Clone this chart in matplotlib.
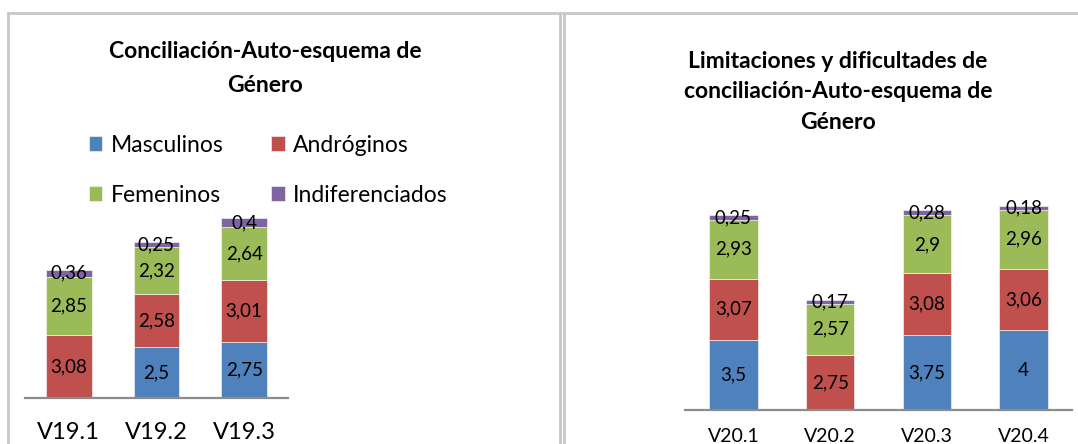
import numpy as np
import matplotlib.pyplot as plt
from matplotlib.lines import Line2D

plt.rcParams['font.family'] = ['Lato', 'DejaVu Sans']

# Data for the two panels
series = ['Masculinos', 'Andróginos', 'Femeninos', 'Indiferenciados']
colors = ['#4F81BD', '#C0504D', '#9BBB59', '#8064A2']

cats_19 = ['V19.1', 'V19.2', 'V19.3']
masc_19 = [0, 2.5, 2.75]
andr_19 = [3.08, 2.58, 3.01]
feme_19 = [2.85, 2.32, 2.64]
indi_19 = [0.36, 0.25, 0.4]

cats_20 = ['V20.1', 'V20.2', 'V20.3', 'V20.4']
masc_20 = [3.5, 0, 3.75, 4]
andr_20 = [3.07, 2.75, 3.08, 3.06]
feme_20 = [2.93, 2.57, 2.9, 2.96]
indi_20 = [0.25, 0.17, 0.28, 0.18]

W, H = 1078, 444
fig = plt.figure(figsize=(W / 100, H / 100), dpi=100)


def px_axes(x0, x1, ybase, px_per_unit, ymax):
    top = ybase - px_per_unit * ymax
    return fig.add_axes([x0 / W, (H - ybase) / H, (x1 - x0) / W, (ybase - top) / H])


def fmt(v):
    return '' if v == 0 else f'{v:g}'.replace('.', ',')


def stacked(ax, cats, data, tick_size, label_size, width, pad):
    x = np.arange(len(cats))
    bottom = np.zeros(len(cats))
    handles = []
    for name, vals, c in zip(series, data, colors):
        bars = ax.bar(x, vals, width, bottom=bottom, color=c, label=name,
                      edgecolor='white', linewidth=0.4)
        ax.bar_label(bars, labels=[fmt(v) for v in vals], label_type='center',
                     fontsize=label_size, color='black')
        bottom += np.array(vals)
        handles.append(bars)
    ax.set_xlim(-0.5, len(cats) - 0.5)
    ax.set_xticks(x)
    ax.set_xticklabels(cats, fontsize=tick_size)
    ax.tick_params(axis='x', length=0, pad=pad)
    ax.set_yticks([])
    for s in ['left', 'right', 'top']:
        ax.spines[s].set_visible(False)
    ax.spines['bottom'].set_color('#8c8c8c')
    ax.spines['bottom'].set_linewidth(1.6)
    return handles


# Left panel
ax1 = px_axes(25, 288, 398, 20.4, 9.5)
ax1.set_ylim(0, 9.5)
h = stacked(ax1, cats_19, [masc_19, andr_19, feme_19, indi_19], 17, 13.5, 0.52, 17)
fig.text(265 / W, 1 - 52 / H, 'Conciliación-Auto-esquema de', ha='center', va='center',
         fontsize=16.5, fontweight='bold')
fig.text(265 / W, 1 - 85 / H, 'Género', ha='center', va='center',
         fontsize=16.5, fontweight='bold')
# legend filled column by column, so reorder to read row by row
order = [0, 2, 1, 3]
fig.legend([h[i] for i in order], [series[i] for i in order], ncol=2, loc='upper left',
           bbox_to_anchor=(68 / W, 1 - 114 / H),
           frameon=False, fontsize=16.5, handlelength=0.6, handleheight=0.6,
           handletextpad=0.35, columnspacing=2.1, labelspacing=1.27)

# Right panel
ax2 = px_axes(685, 1072, 410, 20.0, 10.5)
ax2.set_ylim(0, 10.5)
stacked(ax2, cats_20, [masc_20, andr_20, feme_20, indi_20], 14, 13.5, 0.5, 13)
for i, line in enumerate(['Limitaciones y dificultades de',
                          'conciliación-Auto-esquema de', 'Género']):
    fig.text(838 / W, 1 - (61 + 30.5 * i) / H, line, ha='center', va='center',
             fontsize=16.5, fontweight='bold')

# Panel frames
fc = '#c8c8c8'
for xs, ys in [([8, 8], [13, 450]), ([8, 561], [13, 13]), ([560, 560], [13, 450]),
               ([564, 564], [13, 450]), ([564, 1080], [13, 13])]:
    fig.add_artist(Line2D([v / W for v in xs], [1 - v / H for v in ys],
                          color=fc, linewidth=2, transform=fig.transFigure))

fig.savefig('out.png', dpi=100)
